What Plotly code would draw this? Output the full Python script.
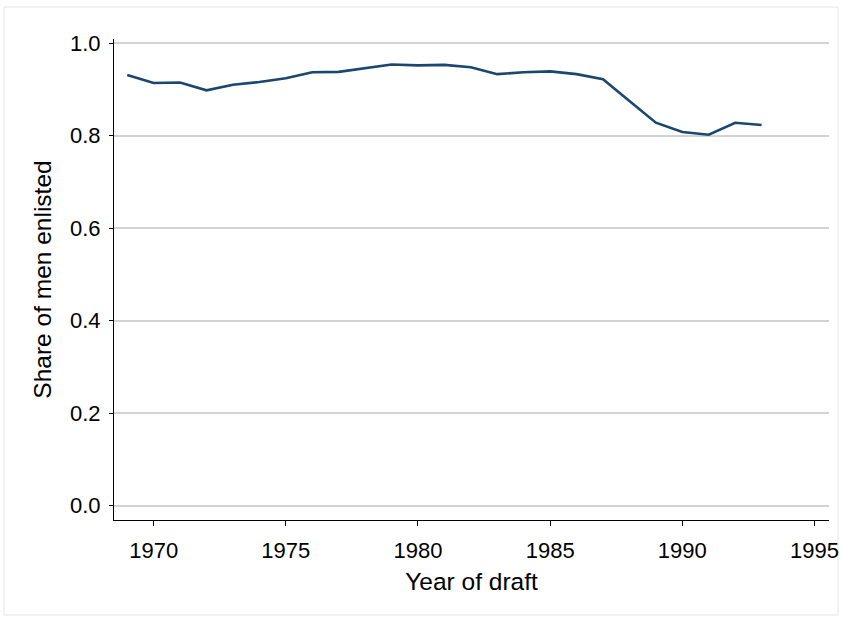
import plotly.graph_objects as go

years = list(range(1969, 1994))
share_enlisted = [0.931, 0.914, 0.915, 0.898, 0.910, 0.916, 0.924, 0.937, 0.938, 0.946,
                  0.954, 0.952, 0.953, 0.948, 0.933, 0.937, 0.939, 0.933, 0.922, 0.875,
                  0.828, 0.808, 0.802, 0.828, 0.823]
x_ticks = [1970, 1975, 1980, 1985, 1990, 1995]
y_ticks = [0.0, 0.2, 0.4, 0.6, 0.8, 1.0]
y_ticklabels = ["0.0", "0.2", "0.4", "0.6", "0.8", "1.0"]

W, H = 842, 619
L, R, T, B = 114, 13, 39, 99
pw, ph = W - L - R, H - T - B

def px2paper_x(px):
    return (px - L) / pw

def px2paper_y(py):
    return (H - B - py) / ph

fig = go.Figure()
fig.add_trace(go.Scatter(
    x=years, y=share_enlisted, mode="lines",
    line=dict(color="#1a476f", width=2.6),
    showlegend=False, hoverinfo="x+y",
))

font_family = "Liberation Sans, Arial, sans-serif"

fig.update_layout(
    width=W, height=H,
    margin=dict(l=L, r=R, t=T, b=B, pad=0, autoexpand=False),
    paper_bgcolor="white", plot_bgcolor="white",
    font=dict(family=font_family, color="black", size=22),
    xaxis=dict(
        range=[1968.5, 1995.55], automargin=False,
        tickmode="array", tickvals=x_ticks, ticktext=[str(v) for v in x_ticks],
        showgrid=False, zeroline=False,
        showline=True, linecolor="black", linewidth=1,
        ticks="outside", ticklen=5, tickcolor="black", tickwidth=1,
        ticklabelstandoff=6,
        tickfont=dict(size=22, family=font_family),
        title=dict(text="Year of draft", font=dict(size=24.5, family=font_family), standoff=10),
    ),
    yaxis=dict(
        range=[-0.031, 1.009], automargin=False,
        tickmode="array", tickvals=y_ticks, ticktext=y_ticklabels,
        showgrid=True, gridcolor="#d3d3d3", gridwidth=1.5,
        zeroline=False,
        showline=True, linecolor="black", linewidth=1,
        ticks="outside", ticklen=4, tickcolor="black", tickwidth=1,
        ticklabelstandoff=4,
        tickfont=dict(size=22, family=font_family),
        title=dict(text="Share of men enlisted", font=dict(size=24.5, family=font_family), standoff=11),
    ),
    shapes=[dict(
        type="rect", xref="paper", yref="paper",
        x0=px2paper_x(4), x1=px2paper_x(838),
        y0=px2paper_y(615), y1=px2paper_y(7),
        line=dict(color="#e6e6e6", width=1), fillcolor="rgba(0,0,0,0)", layer="below",
    )],
)

fig.write_html(
    "out.html",
    config={"displayModeBar": False},
    post_script="document.body.style.margin='0';document.body.style.overflow='hidden';",
)
